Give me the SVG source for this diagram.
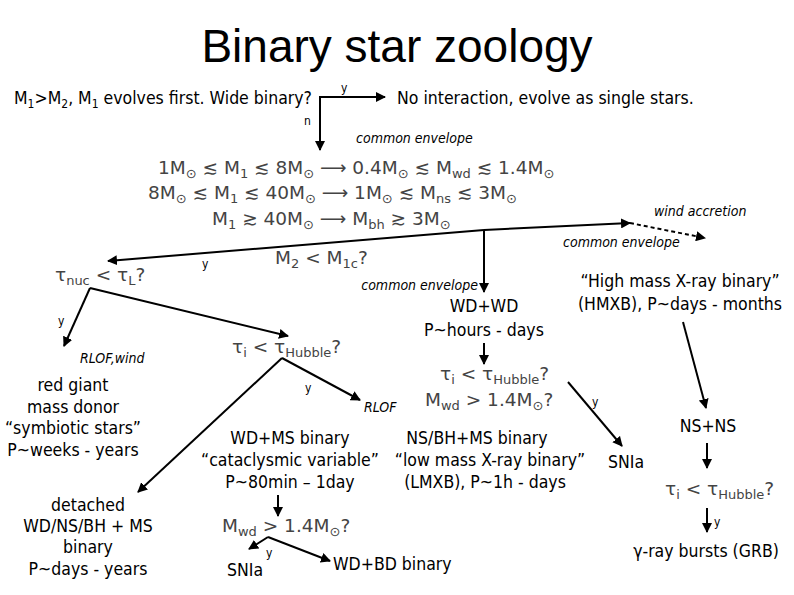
<svg xmlns="http://www.w3.org/2000/svg" width="794" height="595" viewBox="0 0 794 595">
<style>
text{font-family:"DejaVu Sans Condensed","DejaVu Sans",sans-serif;fill:#000}
.t{font-size:17.5px;text-anchor:middle}
.l{font-size:17.5px}
.i{font-size:14px;font-style:italic}
.s{font-size:12px}
.m{font-family:"DejaVu Sans","Noto Sans",sans-serif;font-size:18.5px;fill:#444}
.c line,.c polyline{stroke:#000;stroke-width:2;fill:none;marker-end:url(#a)}
.c .d{stroke-dasharray:4 3}
</style>
<defs><marker id="a" viewBox="0 0 10 10" refX="9" refY="5" markerWidth="5" markerHeight="5" orient="auto" markerUnits="strokeWidth"><path d="M0,0L10,5L0,10z" fill="#000"/></marker></defs>
<text x="397" y="62" style="font-family:'Liberation Sans',sans-serif;font-size:46px;text-anchor:middle">Binary star zoology</text>
<g class="c" id="connectors">
<polyline points="320,105 320,97 385,97"/>
<line x1="320" y1="100" x2="320" y2="150"/>
<line x1="484" y1="230" x2="108" y2="261"/>
<line x1="484" y1="230" x2="630" y2="223"/>
<line class="d" x1="630" y1="223" x2="705" y2="238"/>
<line x1="484" y1="230" x2="484" y2="292"/>
<line x1="90" y1="288" x2="64" y2="346"/>
<line x1="90" y1="288" x2="288" y2="336"/>
<line x1="282" y1="358" x2="138" y2="492"/>
<line x1="282" y1="358" x2="360" y2="400"/>
<line x1="484" y1="343" x2="484" y2="364"/>
<line x1="568" y1="382" x2="622" y2="446"/>
<line x1="683" y1="322" x2="706" y2="408"/>
<line x1="707" y1="443" x2="707" y2="468"/>
<line x1="707" y1="508" x2="707" y2="532"/>
<line x1="278" y1="495" x2="278" y2="516"/>
<line x1="268" y1="537" x2="249" y2="549"/>
<line x1="268" y1="537" x2="330" y2="561"/>
</g>
<g id="n1"><text class="l" x="14" y="104">M<tspan class="s" dy="4">1</tspan><tspan dy="-4">&gt;M</tspan><tspan class="s" dy="4">2</tspan><tspan dy="-4">, M</tspan><tspan class="s" dy="4">1</tspan><tspan dy="-4"> evolves first. Wide binary?</tspan></text></g>
<text class="s" x="341" y="92">y</text>
<text class="s" x="304" y="125">n</text>
<g id="n2"><text class="l" x="397" y="104">No interaction, evolve as single stars.</text></g>
<text class="i" x="356" y="143">common envelope</text>
<g id="n3">
<text class="m" x="158" y="174">1M<tspan font-size="13" dy="4">⊙</tspan><tspan dy="-4"> ≲ M</tspan><tspan font-size="13" dy="4">1</tspan><tspan dy="-4"> ≲ 8M</tspan><tspan font-size="13" dy="4">⊙</tspan><tspan dy="-4"> ⟶ 0.4M</tspan><tspan font-size="13" dy="4">⊙</tspan><tspan dy="-4"> ≲ M</tspan><tspan font-size="13" dy="4">wd</tspan><tspan dy="-4"> ≲ 1.4M</tspan><tspan font-size="13" dy="4">⊙</tspan></text>
<text class="m" x="148" y="199">8M<tspan font-size="13" dy="4">⊙</tspan><tspan dy="-4"> ≲ M</tspan><tspan font-size="13" dy="4">1</tspan><tspan dy="-4"> ≲ 40M</tspan><tspan font-size="13" dy="4">⊙</tspan><tspan dy="-4"> ⟶ 1M</tspan><tspan font-size="13" dy="4">⊙</tspan><tspan dy="-4"> ≲ M</tspan><tspan font-size="13" dy="4">ns</tspan><tspan dy="-4"> ≲ 3M</tspan><tspan font-size="13" dy="4">⊙</tspan></text>
<text class="m" x="212" y="225">M<tspan font-size="13" dy="4">1</tspan><tspan dy="-4"> ≳ 40M</tspan><tspan font-size="13" dy="4">⊙</tspan><tspan dy="-4"> ⟶ M</tspan><tspan font-size="13" dy="4">bh</tspan><tspan dy="-4"> ≳ 3M</tspan><tspan font-size="13" dy="4">⊙</tspan></text>
</g>
<text class="i" x="654" y="216">wind accretion</text>
<text class="i" x="563" y="247">common envelope</text>
<text class="s" x="202" y="268">y</text>
<g id="n4"><text class="m" x="275" y="264">M<tspan font-size="13" dy="4">2</tspan><tspan dy="-4"> &lt; M</tspan><tspan font-size="13" dy="4">1c</tspan><tspan dy="-4">?</tspan></text></g>
<g id="n5"><text class="m" x="55" y="281">τ<tspan font-size="13" dy="4">nuc</tspan><tspan dy="-4"> &lt; τ</tspan><tspan font-size="13" dy="4">L</tspan><tspan dy="-4">?</tspan></text></g>
<text class="i" x="478" y="290" text-anchor="end">common envelope</text>
<g id="n6"><text class="t" x="484" y="312">WD+WD</text><text class="t" x="484" y="336">P~hours - days</text></g>
<g id="n7"><text class="t" x="680" y="287">“High mass X-ray binary”</text><text class="t" x="680" y="310">(HMXB), P~days - months</text></g>
<text class="s" x="58" y="325">y</text>
<text class="i" x="80" y="363">RLOF,wind</text>
<g id="n8"><text class="m" x="232" y="353">τ<tspan font-size="13" dy="4">i</tspan><tspan dy="-4"> &lt; τ</tspan><tspan font-size="13" dy="4">Hubble</tspan><tspan dy="-4">?</tspan></text></g>
<g id="n9"><text class="t" x="73" y="391">red giant</text><text class="t" x="73" y="413">mass donor</text><text class="t" x="73" y="434">“symbiotic stars”</text><text class="t" x="73" y="456">P~weeks - years</text></g>
<text class="s" x="305" y="392">y</text>
<text class="i" x="364" y="412">RLOF</text>
<g id="n10"><text class="m" x="440" y="380">τ<tspan font-size="13" dy="4">i</tspan><tspan dy="-4"> &lt; τ</tspan><tspan font-size="13" dy="4">Hubble</tspan><tspan dy="-4">?</tspan></text><text class="m" x="425" y="406">M<tspan font-size="13" dy="4">wd</tspan><tspan dy="-4"> &gt; 1.4M</tspan><tspan font-size="13" dy="4">⊙</tspan><tspan dy="-4">?</tspan></text></g>
<text class="s" x="592" y="406">y</text>
<g id="n11"><text class="t" x="290" y="444">WD+MS binary</text><text class="t" x="290" y="466">“cataclysmic variable”</text><text class="t" x="290" y="488">P~80min – 1day</text></g>
<g id="n12"><text class="t" x="477" y="444">NS/BH+MS binary</text><text class="t" x="490" y="466">“low mass X-ray binary”</text><text class="t" x="485" y="488">(LMXB), P~1h - days</text></g>
<g id="n13"><text class="t" x="626" y="468">SNIa</text></g>
<g id="n14"><text class="t" x="708" y="432">NS+NS</text></g>
<g id="n15"><text class="m" x="665" y="495">τ<tspan font-size="13" dy="4">i</tspan><tspan dy="-4"> &lt; τ</tspan><tspan font-size="13" dy="4">Hubble</tspan><tspan dy="-4">?</tspan></text></g>
<text class="s" x="714" y="526">y</text>
<g id="n16"><text class="t" x="706" y="557">γ-ray bursts (GRB)</text></g>
<g id="n17"><text class="t" x="88" y="511">detached</text><text class="t" x="88" y="532">WD/NS/BH + MS</text><text class="t" x="88" y="553">binary</text><text class="t" x="88" y="575">P~days - years</text></g>
<g id="n18"><text class="m" x="222" y="532">M<tspan font-size="13" dy="4">wd</tspan><tspan dy="-4"> &gt; 1.4M</tspan><tspan font-size="13" dy="4">⊙</tspan><tspan dy="-4">?</tspan></text></g>
<text class="s" x="266" y="557">y</text>
<g id="n19"><text class="t" x="245" y="576">SNIa</text></g>
<g id="n20"><text class="l" x="333" y="570">WD+BD binary</text></g>
</svg>
